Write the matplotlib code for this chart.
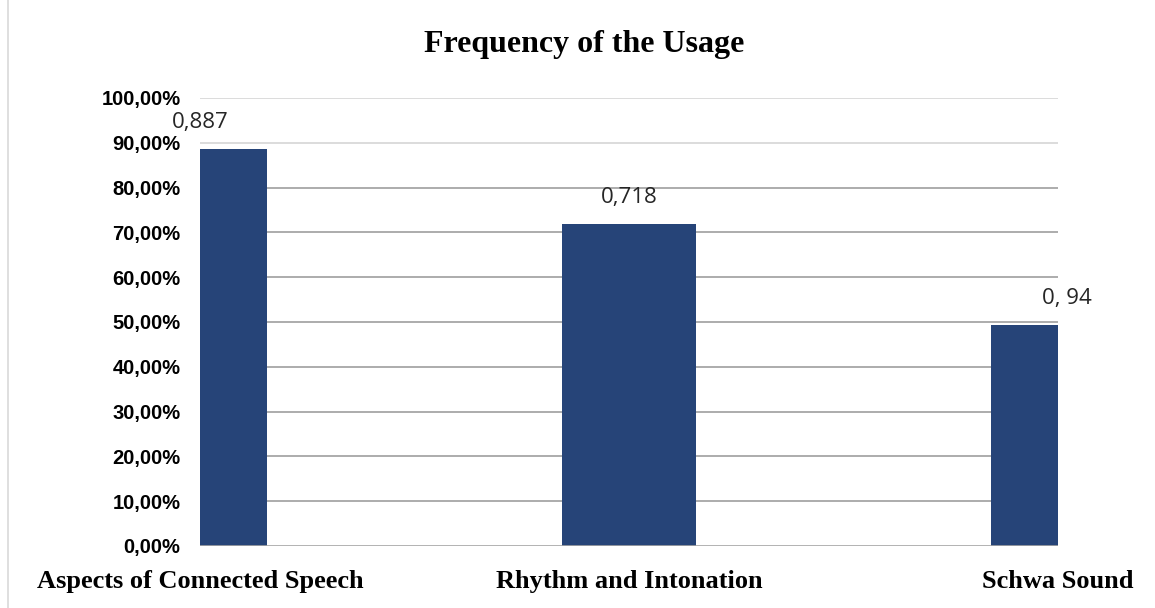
import matplotlib
matplotlib.use("Agg")
import matplotlib.pyplot as plt
from matplotlib.lines import Line2D

categories = ["Aspects of Connected Speech", "Rhythm and Intonation", "Schwa Sound"]
values = [0.887, 0.718, 0.494]
value_labels = ["0,887", "0,718", "0, 94"]
yticks = [i / 10 for i in range(11)]
ytick_labels = [f"{int(t * 100)},00%" for t in yticks]

BAR = "#264478"

fig = plt.figure(figsize=(11.55, 6.08), dpi=100)
ax = fig.add_axes([0.1732, 0.102, 0.7429, 0.737])

x = list(range(len(categories)))
ax.bar(x, values, width=0.312, color=BAR, zorder=3)
ax.set_xlim(0, len(categories) - 1)
ax.set_ylim(0, 1)

# gridlines: top two faint, the rest darker
for t in yticks[1:]:
    col = "#d9d9d9" if t >= 0.9 else "#a6a6a6"
    ax.axhline(t, color=col, lw=1.3, zorder=1)
ax.axhline(0, color="#a6a6a6", lw=1.2, zorder=4)

for s in ax.spines.values():
    s.set_visible(False)

ax.set_yticks(yticks)
ax.set_yticklabels(ytick_labels, fontsize=14.5, fontweight="bold",
                   family="Liberation Sans")
ax.tick_params(axis="y", length=0, pad=14)
ax.set_xticks(x)
ax.set_xticklabels(categories, fontsize=19, fontweight="bold",
                   family="Liberation Serif")
ax.tick_params(axis="x", length=0, pad=17)

for xi, v, lab in zip(x, values, value_labels):
    dx = 6 if xi == len(categories) - 1 else 0
    ax.annotate(lab, (xi, v), xytext=(dx, 19), textcoords="offset points",
                ha="center", va="center", fontsize=16, color="#262626",
                family="Open Sans")

fig.text(0.506, 0.926, "Frequency of the Usage", ha="center", va="center",
         fontsize=23, fontweight="bold", family="Liberation Serif")

fig.add_artist(Line2D([0.0065, 0.0065], [0, 1], transform=fig.transFigure,
                      color="#d9d9d9", lw=1.2))

fig.savefig("out.png", dpi=100)
